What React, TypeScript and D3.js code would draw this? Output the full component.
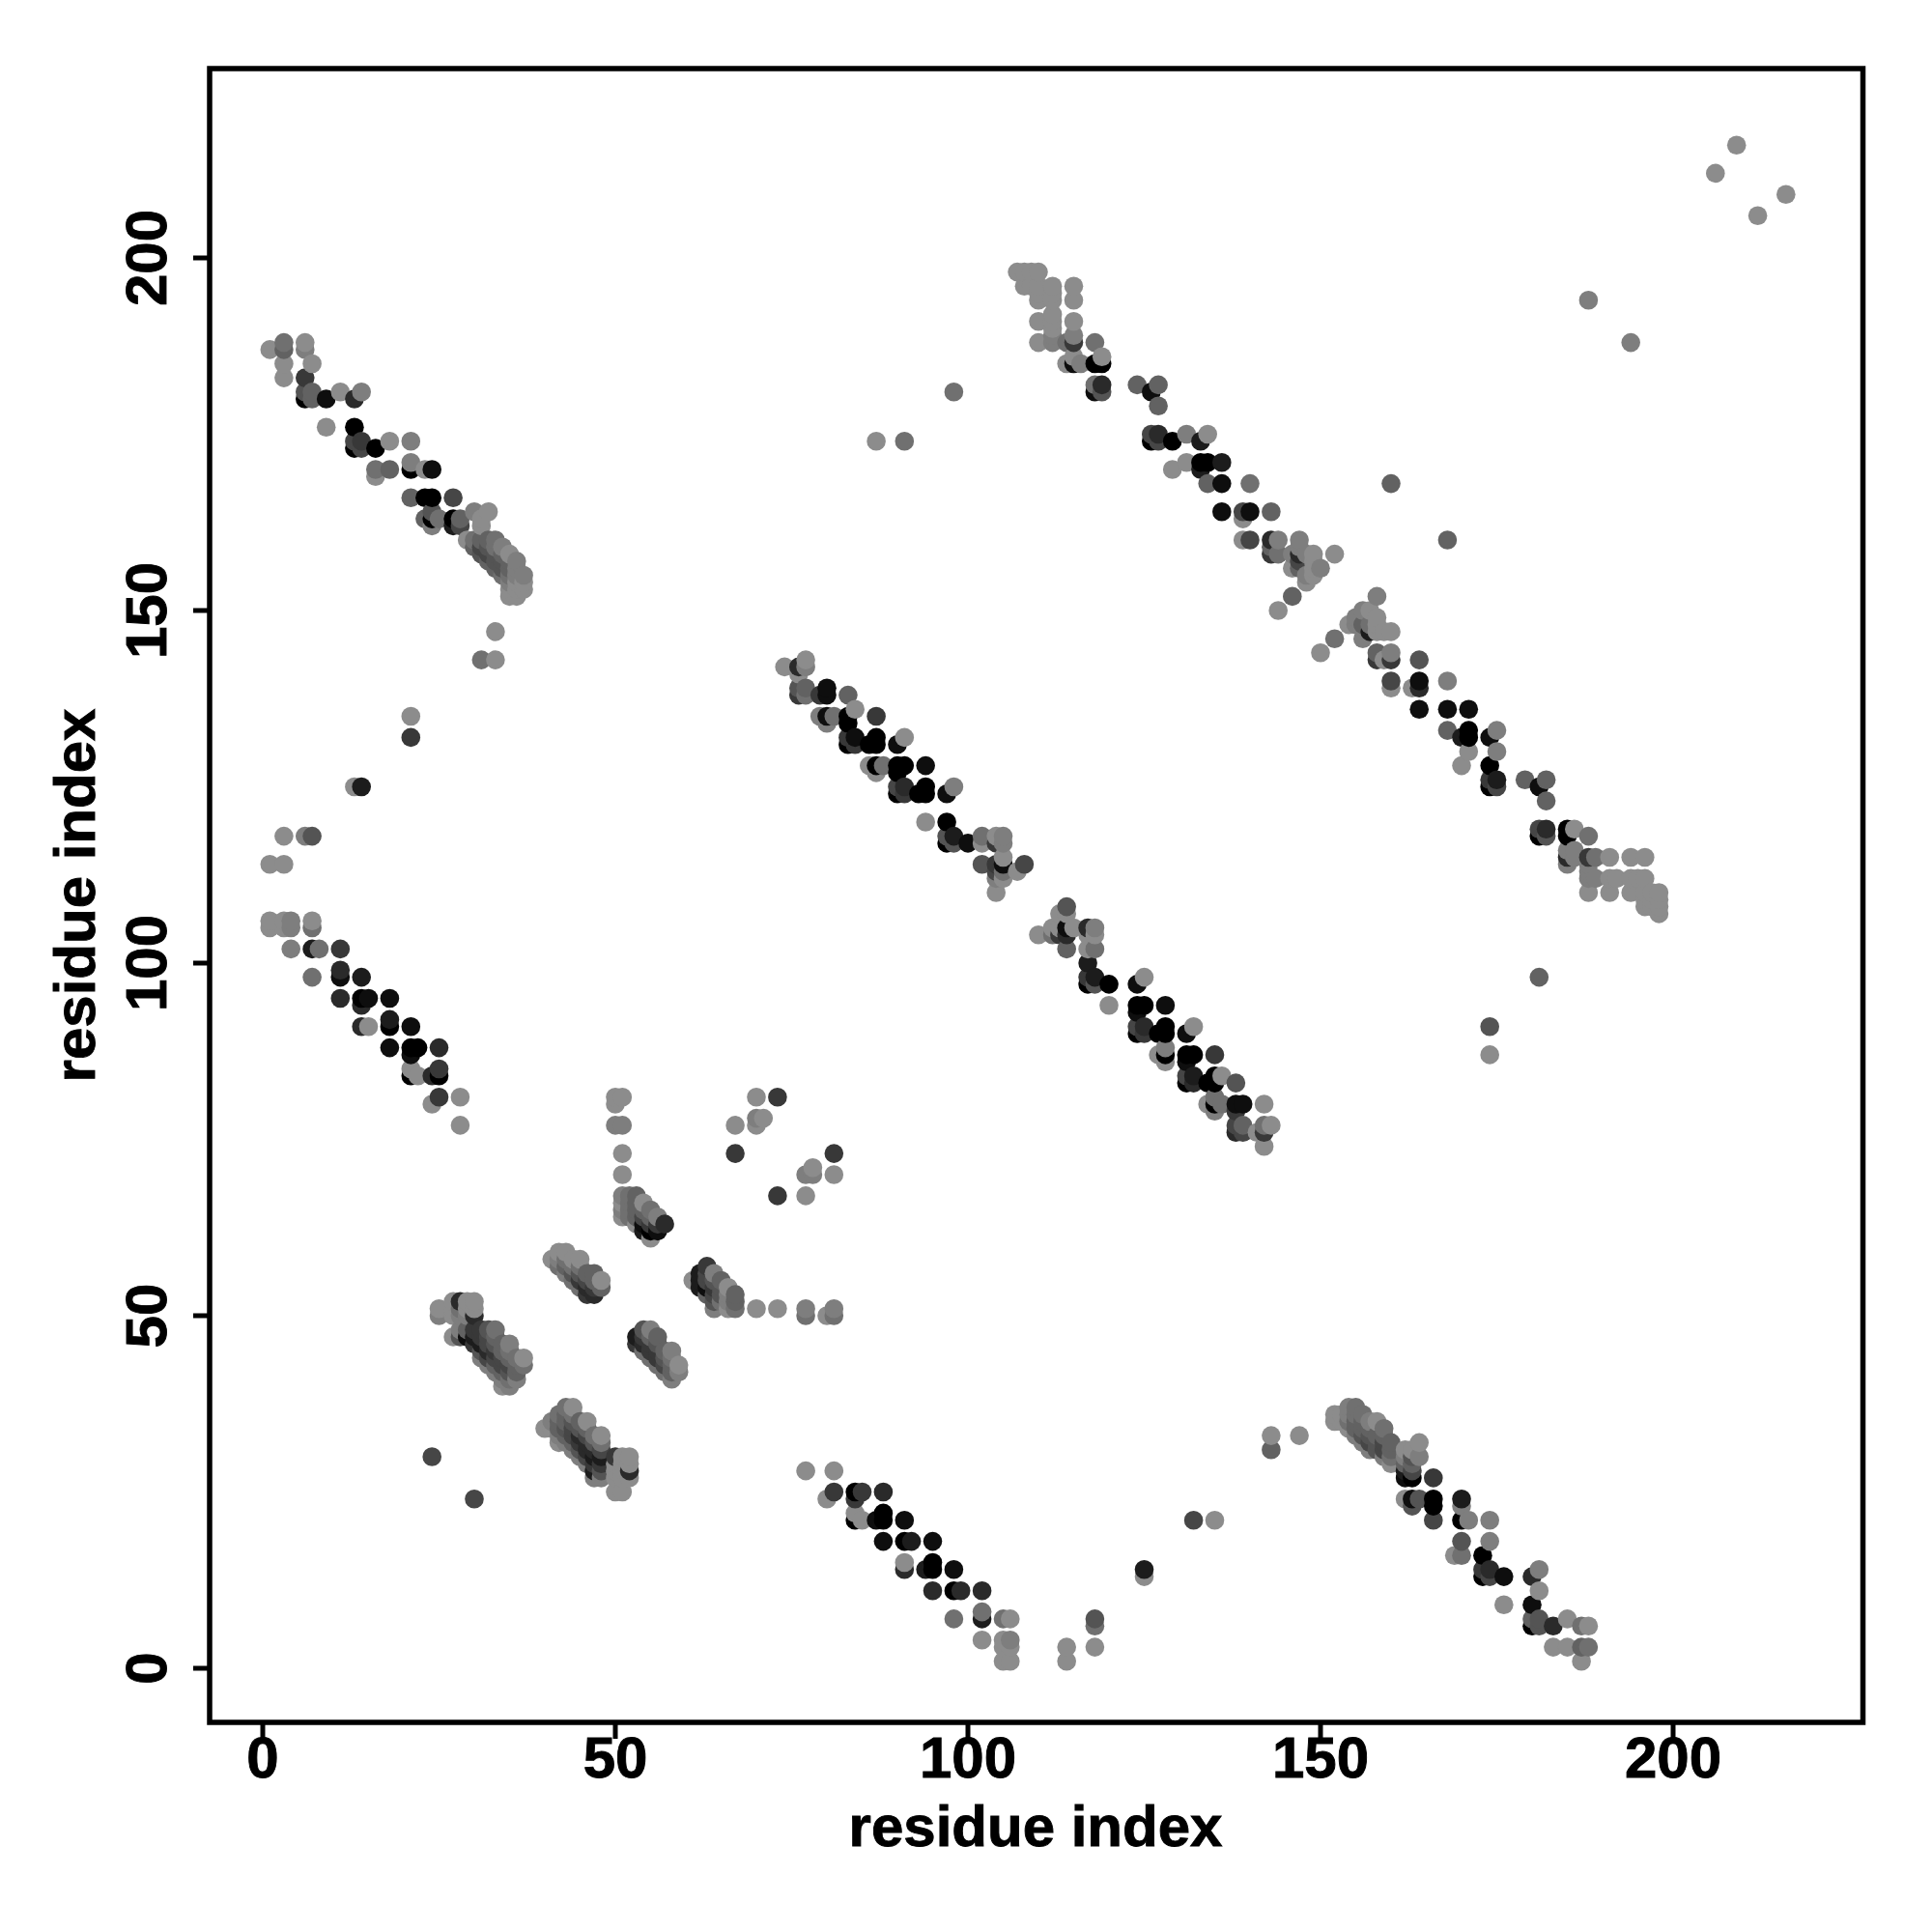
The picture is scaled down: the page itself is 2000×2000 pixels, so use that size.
import React from "react";
import * as d3 from "d3";

type P = [number, number, number];
// each contact: [residue i, residue j, strength 0 (weak) .. 10 (strong)]
const helixA: P[] = [
[1,187,0],[3,188,2],[3,187,3],[3,185,0],[3,183,0],[6,188,0],[6,187,1],[6,183,6],[6,181,4],[6,180,10],[7,185,0],[7,181,3],[7,180,3],[9,180,9],[9,176,0],[11,181,0],[13,180,7],[13,176,10],[13,174,5],[13,173,10],[14,181,1],[14,174,6],[14,173,5],[16,173,10],[16,170,2],[16,169,0],[18,174,0],[18,170,3],[21,174,1],[21,171,1],[21,170,10],[21,166,3],[23,170,0],[23,166,10],[23,163,3],[24,170,9],[24,166,10],[24,164,4],[24,163,10],[24,162,1],[25,163,2],[27,166,5],[27,163,10],[27,162,8],
[28,163,3],[28,162,5],[29,160,0],[30,164,1],[30,160,2],[30,159,3],[31,163,0],[31,162,0],[31,160,3],[31,159,5],[31,158,4],[32,164,0],[32,160,3],[32,159,4],[32,158,5],[32,157,3],[33,160,2],[33,159,2],[33,158,4],[33,157,4],[33,156,3],[34,159,1],[34,158,3],[34,157,4],[34,156,4],[34,155,2],[35,158,0],[35,157,3],[35,156,3],[35,155,2],[35,154,1],[35,153,0],[35,152,0],[36,157,1],[36,156,1],[36,155,1],[36,154,0],[36,153,0],[36,152,0],[37,155,1],[37,154,0],[37,153,0],[33,147,0],[31,143,2],[33,143,0],
];
const helixB: P[] = [
[21,135,0],[21,132,6],[13,125,0],[14,125,8],[3,118,0],[6,118,1],[7,118,4],[1,114,0],[3,114,0],
[1,106,0],[1,105,0],[3,106,0],[3,105,0],[4,106,1],[4,105,1],[7,106,0],[7,105,2],[4,102,1],[7,102,8],[8,102,2],[11,102,6],[11,99,7],[11,98,9],[14,98,8],[7,98,2],[11,95,7],[14,95,10],[14,94,7],[15,95,9],[18,95,9],[14,91,7],[15,91,0],[18,92,8],[18,91,10],[21,91,9],[18,88,9],[21,88,10],[21,87,9],[22,88,10],[25,88,7],[21,85,0],[21,84,10],[22,84,0],[24,84,7],[25,85,6],[25,84,10],[25,81,6],[28,81,0],[24,80,0],[28,77,0],
];
const sheetRows: P[] = [
[50,81,0],[50,80,0],[51,81,0],[50,77,1],[51,77,1],[51,73,0],[51,70,0],[70,81,0],[73,81,6],[67,77,0],[70,78,1],[70,77,0],[71,78,0],[67,73,6],[73,67,6],[77,67,0],[77,70,1],[78,71,0],[78,70,1],[81,70,0],[81,73,6],[70,51,0],[73,51,0],[77,51,1],[77,50,2],[80,50,0],[81,51,1],[81,50,2],[24,30,5],[30,24,5],[77,28,0],[81,28,0],[143,33,0],[143,31,3],[147,33,0],
];
const sheetA: P[] = [
[51,67,1],[51,66,0],[51,65,1],[51,64,0],[52,67,2],[52,66,2],[52,65,2],[52,64,2],[53,67,3],[53,66,3],[53,65,3],[53,64,3],[53,63,0],[54,66,0],[54,65,3],[54,64,5],[54,63,9],[54,62,8],[55,65,2],[55,64,3],[55,63,6],[55,62,10],[55,61,0],[56,64,1],[56,63,6],[56,62,9],[57,63,7],
];
const sheetB: P[] = [
[41,58,0],[42,59,0],[42,58,1],[42,57,2],[43,59,0],[43,58,2],[43,57,3],[43,56,1],[44,58,0],[44,57,2],[44,56,4],[44,55,2],[45,58,0],[45,57,2],[45,56,4],[45,55,6],[45,54,2],[46,56,3],[46,55,5],[46,54,7],[46,53,6],[47,56,3],[47,55,3],[47,54,6],[47,53,7],[48,55,0],[48,54,3],
];
const sheetC: P[] = [
[61,55,0],[62,56,8],[62,55,8],[62,54,8],[63,57,6],[63,56,5],[63,55,5],[63,54,9],[63,53,3],[64,56,1],[64,55,4],[64,54,6],[64,53,5],[64,52,4],[64,51,1],[65,55,3],[65,54,4],[65,53,4],[65,52,2],[66,54,0],[66,53,1],[66,52,1],[66,51,0],[67,53,3],[67,52,3],[67,51,2],
];
const sheetD: P[] = [
[53,47,8],[53,46,6],[54,48,4],[54,47,6],[54,46,7],[54,45,2],[55,48,1],[55,47,3],[55,46,6],[55,45,6],[55,44,2],[56,47,3],[56,46,4],[56,45,6],[56,44,6],[56,43,2],[57,45,3],[57,44,4],[57,43,5],[57,42,2],[58,45,1],[58,44,2],[58,43,3],[58,42,3],[58,41,1],[59,43,0],[59,42,1],
];
const sheetE: P[] = [
[25,51,0],[25,50,1],[27,52,0],[27,51,0],[27,50,0],[27,47,0],[28,52,7],[28,51,2],[28,50,1],[28,48,1],[28,47,4],[29,52,0],[29,51,0],[29,50,1],[29,48,3],[29,47,9],[30,52,0],[30,51,0],[30,50,7],[30,48,6],[30,47,8],[30,46,6],[31,48,6],[31,47,6],[31,46,8],[31,45,4],[31,44,1],[32,48,4],[32,47,5],[32,46,5],[32,45,7],[32,44,5],[32,43,1],[33,48,2],[33,47,3],[33,46,4],[33,45,6],[33,44,5],[33,43,3],[33,42,1],[34,46,3],[34,45,3],[34,44,5],[34,43,5],[34,42,3],[34,41,1],[34,40,0],[35,46,1],[35,45,2],[35,44,3],[35,43,5],[35,42,4],[35,41,2],[35,40,1],[36,44,2],[36,43,3],[36,42,3],[36,41,1],[37,44,0],[37,43,2],
];
const sheetF: P[] = [
[40,34,0],[41,35,1],[41,34,0],[42,36,2],[42,35,3],[42,34,3],[42,33,1],[42,32,0],[43,37,2],[43,36,3],[43,35,3],[43,34,4],[43,33,3],[43,32,1],[44,37,0],[44,36,2],[44,35,4],[44,34,5],[44,33,5],[44,32,3],[44,31,1],[45,35,3],[45,34,4],[45,33,7],[45,32,6],[45,31,4],[45,30,1],[46,35,0],[46,34,3],[46,33,5],[46,32,7],[46,31,7],[46,30,5],[46,29,1],[47,33,2],[47,32,4],[47,31,7],[47,30,8],[47,29,6],[47,28,8],[47,27,1],[48,33,0],[48,32,2],[48,31,5],[48,30,8],[48,29,6],[48,28,4],[48,27,1],[50,30,6],[50,29,0],[50,28,0],[50,27,0],[50,25,0],[51,30,0],[51,29,0],[51,28,0],[51,27,0],[51,25,0],[52,30,0],[52,29,0],[52,28,7],[52,27,0],
];
const strandMiddle: P[] = [
[74,142,0],[76,142,7],[76,141,0],[77,143,0],[77,142,1],[76,139,4],[76,138,6],[77,139,3],[77,138,2],[79,138,6],[80,139,9],[80,138,9],[83,138,3],[79,135,1],[80,135,9],[80,134,1],[81,135,2],[83,135,10],[83,134,10],[84,136,0],[87,135,6],[83,132,6],[83,131,10],[84,132,9],[84,131,6],[86,131,10],[87,132,10],[87,131,10],[90,131,9],[91,132,0],[86,128,0],[87,128,10],[87,127,0],[88,128,2],[90,128,10],[90,127,10],[91,128,10],[94,128,9],[90,125,5],[90,124,10],[91,125,7],[91,124,6],[93,124,10],[94,125,10],[94,124,10],[97,124,9],[98,125,1],[94,120,0],[97,120,10],[97,118,4],[97,117,10],[98,118,8],[98,117,4],[100,117,9],[102,118,2],[102,117,0],[104,118,0],[104,117,6],[105,118,1],[105,117,1],[102,114,4],[104,114,6],[104,113,5],[104,112,1],[104,110,0],[105,115,0],[105,114,9],[105,113,2],[105,112,0],[107,113,0],[108,114,5],
[110,104,0],[112,105,0],[112,104,2],[113,107,0],[113,105,0],[113,104,6],[114,108,4],[114,107,0],[114,105,9],[114,104,7],[114,102,3],[115,105,0],[117,105,7],[117,104,0],[117,102,0],[118,105,1],[118,104,0],[118,102,2],[117,100,8],[117,98,6],[117,97,10],[118,98,8],[118,97,4],[120,97,10],[120,94,0],[124,97,9],[125,98,0],[124,94,10],[124,93,9],[125,94,10],[128,94,9],[124,91,5],[124,90,10],[125,91,7],[125,90,6],[127,90,10],[128,91,10],[128,90,10],[131,90,9],[132,91,0],[127,87,0],[128,88,1],[128,87,10],[128,86,0],[131,87,10],[131,86,9],[132,87,10],[135,87,6],[131,84,5],[131,83,10],[132,84,8],[132,83,7],[134,83,10],[135,84,10],[135,83,10],[136,84,0],[138,83,4],[134,80,0],[135,81,2],[135,80,10],[135,79,1],[136,80,2],[138,80,9],[138,79,6],[139,80,9],[142,80,0],[138,77,5],[138,76,7],[139,77,3],[139,76,5],[141,76,0],[142,77,2],[142,76,6],[143,77,0],[142,74,0],
];
const strandUpper: P[] = [
[107,198,0],[108,198,0],[109,198,0],[110,198,0],[108,196,0],[109,196,0],[110,196,0],[110,195,0],[110,194,0],[112,196,0],[112,195,0],[112,194,0],[115,196,0],[115,194,0],[110,191,0],[112,192,0],[112,191,0],[115,191,0],[112,190,0],[112,189,1],[110,188,0],[112,188,1],[114,188,2],[115,189,1],[115,188,6],[115,186,0],[115,185,9],[118,188,2],[114,185,0],[116,185,1],[118,185,10],[119,185,10],[119,186,0],[118,182,2],[118,181,9],[119,182,7],[119,181,4],[124,182,3],[126,181,9],[127,182,3],[127,179,3],
[126,175,5],[126,174,10],[127,175,7],[127,174,5],[129,174,10],[131,175,1],[133,174,8],[134,175,0],[129,170,0],[131,171,0],[133,171,10],[133,170,8],[134,171,10],[136,171,8],[134,168,3],[136,168,9],[140,168,2],[136,164,9],[139,164,5],[139,163,0],[140,164,9],[143,164,3],[139,160,0],[140,160,5],[143,160,7],[143,159,3],[143,158,6],[144,160,1],[144,158,2],[147,160,1],[146,158,1],[147,159,1],[147,158,7],[147,157,5],[147,156,3],[146,156,0],[148,158,1],[148,155,1],[148,154,0],[149,158,0],[149,157,0],[149,156,0],[149,155,0],[150,156,1],[152,158,0],[146,152,3],[144,150,0],[158,152,1],[152,146,2],[150,144,0],
[154,148,0],[155,149,1],[155,148,1],[156,150,1],[156,148,3],[156,146,1],[157,150,0],[157,148,2],[157,147,8],[158,149,0],[158,148,0],[158,147,0],[159,147,0],[160,147,0],[158,144,3],[158,143,6],[159,143,0],[160,144,1],[160,143,6],[164,143,4],[160,140,5],[160,139,0],[163,139,0],[164,140,9],[164,139,7],[168,140,1],[164,136,9],[168,136,9],[171,136,9],[168,133,3],[170,132,8],[171,133,10],[171,132,10],[174,132,9],[175,133,1],[171,130,0],[175,130,1],[170,128,0],[174,128,10],[174,126,6],[174,125,10],[175,126,8],[175,125,5],[179,126,3],[181,125,9],[182,126,3],[182,123,3],
[181,119,5],[181,118,10],[182,119,7],[182,118,4],[185,119,10],[185,118,10],[186,119,0],[188,118,2],[185,116,1],[185,115,7],[185,114,1],[186,116,1],[186,115,1],[188,115,6],[188,114,1],[188,113,1],[189,115,2],[191,115,0],[194,115,0],[196,115,0],[188,112,1],[189,112,1],[191,112,0],[192,112,0],[194,112,0],[195,112,0],[196,112,0],[188,110,0],[191,110,0],[194,110,0],[196,110,0],[197,110,0],[198,110,0],[196,109,0],[197,109,0],[198,109,0],[196,108,0],[197,108,0],[198,108,0],[198,107,0],
];
const strandLower: P[] = [
[80,24,0],[81,25,6],[84,25,10],[84,24,6],[85,25,6],[88,25,7],[84,22,0],[84,21,10],[85,21,0],[87,21,9],[88,22,10],[88,21,10],[91,21,9],[88,18,9],[91,18,10],[92,18,8],[95,18,9],[91,15,0],[91,14,7],[94,14,8],[95,15,10],[95,14,10],[98,14,9],[95,11,7],[98,11,10],[99,11,7],[102,11,7],[98,7,2],[102,8,2],[102,7,8],[105,7,2],[106,7,0],[102,4,0],[105,4,0],[105,3,0],[105,1,0],[106,4,1],[106,3,0],[106,1,0],[114,3,0],[114,1,0],[118,7,4],[118,6,2],[118,3,0],[125,14,8],[125,13,0],[132,21,5],[135,21,0],
[152,36,0],[152,35,0],[153,36,0],[153,35,0],[154,37,1],[154,36,1],[154,35,2],[154,34,0],[155,37,2],[155,36,2],[155,35,3],[155,34,3],[155,33,1],[156,36,2],[156,35,3],[156,34,3],[156,33,4],[156,32,1],[157,35,1],[157,34,3],[157,33,4],[157,32,5],[157,31,1],[158,35,0],[158,33,3],[158,32,4],[158,31,4],[159,34,2],[159,33,3],[159,32,5],[159,31,5],[159,30,1],[160,32,3],[160,31,3],[160,30,2],[160,29,0],[162,31,0],[162,30,1],[162,29,3],[162,28,8],[162,27,9],[163,31,0],[163,30,4],[163,29,3],[163,28,5],[163,27,10],[164,32,0],[164,30,1],[166,27,6],[162,24,0],[163,24,9],[163,23,4],[164,24,4],[166,24,10],[166,23,10],[166,21,5],[170,24,8],[170,23,1],[170,21,10],[171,21,1],[174,21,1],[174,18,1],[170,18,4],[169,16,0],[170,16,2],[173,16,10],[173,14,6],[173,13,10],[174,14,7],[174,13,5],[176,13,9],[176,9,0],[180,13,7],[181,14,1],[181,11,0],[180,9,9],[180,7,3],[180,6,10],[181,7,4],[181,6,4],[183,6,7],[185,7,0],[187,6,2],[188,6,0],[183,3,0],[185,3,0],[187,3,3],[188,3,2],[187,1,0],
];
const outliers: P[] = [
[206,212,0],[209,216,0],[212,206,0],[216,209,0],[188,194,1],[194,188,1],[98,181,2],[87,174,0],[91,174,2],[160,168,3],[168,160,3],[174,91,4],[174,87,0],[181,98,3],
];

const xTicks = [0, 50, 100, 150, 200];
const yTicks = [0, 50, 100, 150, 200];
const axisTitle = "residue index";

const allContacts: P[] = d3.sort(
  [...helixA, ...helixB, ...sheetRows, ...sheetA, ...sheetB, ...sheetC, ...sheetD, ...sheetE, ...sheetF, ...strandMiddle, ...strandUpper, ...strandLower, ...outliers],
  (a, b) => d3.ascending(a[0], b[0]) || d3.ascending(a[1], b[1])
);

export default function App() {
  const x = d3.scaleLinear().domain([0, 200]).range([272, 1732]);
  const y = d3.scaleLinear().domain([0, 200]).range([1727, 267]);
  const shade = d3.scaleLinear<string>().domain([0, 10]).range(["#8c8c8c", "#000000"]);
  const font = "'Liberation Sans', Arial, sans-serif";
  const frame = { l: 217, t: 71, r: 1928.5, b: 1783 };
  const textProps = { fontFamily: font, fontWeight: "bold", stroke: "#000", strokeWidth: 0.9 };
  return (
    <svg width={2000} height={2000} style={{ position: "absolute", left: 0, top: 0, background: "#fff" }}>
      {allContacts.map((d, i) => (
        <circle key={i} cx={x(d[0])} cy={y(d[1])} r={9.8} fill={shade(d[2])} />
      ))}
      <rect x={frame.l} y={frame.t} width={frame.r - frame.l} height={frame.b - frame.t} fill="none" stroke="#000" strokeWidth={5.5} />
      {xTicks.map((t) => (
        <g key={t}>
          <line x1={x(t)} x2={x(t)} y1={frame.b} y2={frame.b + 17} stroke="#000" strokeWidth={5} />
          <text x={x(t)} y={1840} textAnchor="middle" fontSize={60} {...textProps}>{t}</text>
        </g>
      ))}
      {yTicks.map((t) => (
        <g key={t}>
          <line x1={frame.l - 17} x2={frame.l} y1={y(t)} y2={y(t)} stroke="#000" strokeWidth={5} />
          <text transform={`translate(172,${y(t)}) rotate(-90)`} textAnchor="middle" fontSize={60} {...textProps}>{t}</text>
        </g>
      ))}
      <text x={1072} y={1911} textAnchor="middle" fontSize={60} {...textProps}>{axisTitle}</text>
      <text transform={`translate(98,927) rotate(-90)`} textAnchor="middle" fontSize={60} {...textProps}>{axisTitle}</text>
    </svg>
  );
}
